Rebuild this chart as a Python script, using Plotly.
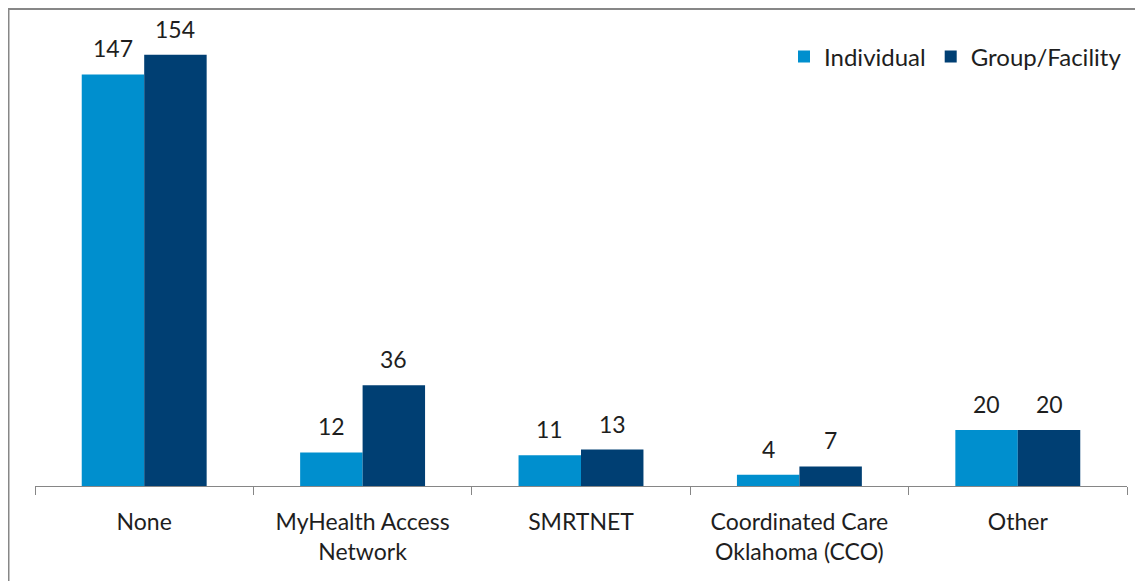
import plotly.graph_objects as go

categories = ["None", "MyHealth Access<br>Network", "SMRTNET", "Coordinated Care<br>Oklahoma (CCO)", "Other"]
individual = [147, 12, 11, 4, 20]
group_facility = [154, 36, 13, 7, 20]

C_IND = "#008FCE"
C_GRP = "#003F73"
FONT = "Lato"
TXT = "#1e1e1e"

# page body has an 8px margin, so figure coordinates are screen - 8
OFF = 8
W, H = 1143 - OFF, 581 - OFF
ML, MR, MT, MB = 35 - OFF, 16, 20 - OFF, 581 - 486
PW = W - ML - MR
PH = H - MT - MB
YMAX = PH / 2.8

fig = go.Figure()
fig.add_bar(name="Individual", x=categories, y=individual, marker_color=C_IND, marker_line_width=0)
fig.add_bar(name="Group/Facility", x=categories, y=group_facility, marker_color=C_GRP, marker_line_width=0)

bar_px = PW / len(categories) * (1 - 0.428) / 2
for vals, sh in ((individual, -bar_px / 2), (group_facility, bar_px / 2)):
    for c, v in zip(categories, vals):
        fig.add_annotation(x=c, y=v, text=str(v), showarrow=False, xshift=sh, yshift=10,
                           yanchor="bottom", font=dict(family=FONT, size=23, color=TXT))

def px_x(p):
    # screen px -> paper
    return (p - OFF - ML) / PW

def px_y(p):
    return (H - MB - (p - OFF)) / PH

fig.add_shape(type="rect", xref="paper", yref="paper", x0=px_x(8.5), x1=px_x(1180),
              y0=px_y(620), y1=px_y(9), line=dict(color="#878787", width=2), layer="above")

fig.update_layout(
    width=W, height=H,
    margin=dict(l=ML, r=MR, t=MT, b=MB, pad=0),
    paper_bgcolor="white", plot_bgcolor="white",
    barmode="group", bargap=0.428, bargroupgap=0,
    font=dict(family=FONT, size=23, color=TXT),
    showlegend=True,
    legend=dict(orientation="h", x=px_x(1127), xanchor="right", y=px_y(57), yanchor="middle",
                font=dict(family=FONT, size=24, color=TXT), bgcolor="rgba(0,0,0,0)",
                itemwidth=30, traceorder="normal"),
    xaxis=dict(showline=True, linecolor="#868686", linewidth=1, ticks="outside", ticklen=8,
               tickcolor="#868686", tickwidth=1, tickson="boundaries", showgrid=False,
               ticklabelstandoff=15, tickfont=dict(family=FONT, size=23, color=TXT)),
    yaxis=dict(range=[0, YMAX], visible=False, showgrid=False, zeroline=False),
)

fig.write_html("out.html")
